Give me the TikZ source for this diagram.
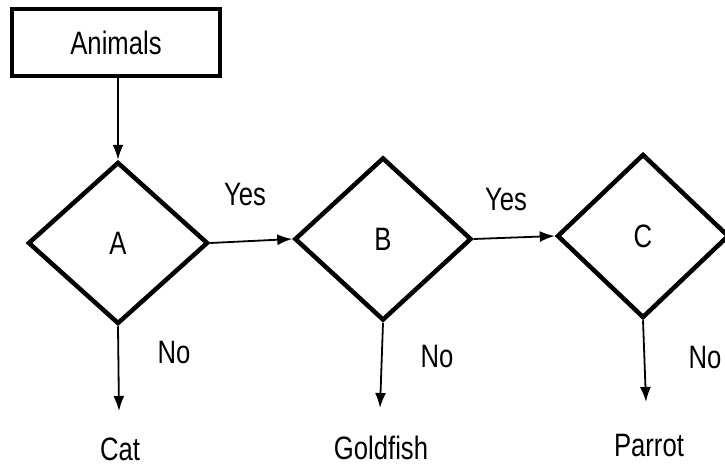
\documentclass[tikz,border=0pt]{standalone}
\usepackage{fontspec}
\setmainfont{Liberation Sans}
\usetikzlibrary{shapes.geometric,arrows.meta}
\newcommand{\mytxt}[1]{\scalebox{0.95}[1.2]{#1}}
\begin{document}
\begin{tikzpicture}[x=1pt,y=-1pt,
  lbl/.style={font=\fontsize{27}{30}\selectfont, inner sep=0pt},
  dec/.style={diamond, draw, line width=4.5pt, minimum width=180pt, minimum height=162pt, inner sep=0pt, font=\fontsize{27}{30}\selectfont},
  arr/.style={line width=1.8pt, -{Latex[length=15pt,width=11pt]}},
  startbox/.style={draw, line width=3.2pt, minimum width=208pt, minimum height=67pt, inner sep=0pt, font=\fontsize{27}{30}\selectfont}]
\useasboundingbox (0,0) rectangle (725,468);
\fill[white] (0,0) rectangle (725,468);
\clip (0,0) rectangle (725,468);
\node[startbox] (animals) at (116,42.5) {\mytxt{Animals}};
\node[dec] (A) at (118,243) {\mytxt{A}};
\node[dec, minimum width=177pt, minimum height=163pt] (B) at (383,239) {\mytxt{B}};
\node[dec, minimum width=172pt, minimum height=164pt] (C) at (643,236) {\mytxt{C}};
\node[lbl] (yes1) at (245,195) {\mytxt{Yes}};
\node[lbl] (yes2) at (506,200) {\mytxt{Yes}};
\node[lbl] (no1) at (174,353) {\mytxt{No}};
\node[lbl] (no2) at (437,357) {\mytxt{No}};
\node[lbl] (no3) at (705,358) {\mytxt{No}};
\node[lbl] (cat) at (120,449) {\mytxt{Cat}};
\node[lbl] (gold) at (381,448) {\mytxt{Goldfish}};
\node[lbl] (parrot) at (649,446) {\mytxt{Parrot}};
\coordinate (ta) at (119,411);
\coordinate (tb) at (380,408);
\coordinate (tc) at (646,402);
\draw[arr] (animals.south -| A.north) -- (A.north);
\draw[arr] (A.east) -- (B.west);
\draw[arr] (B.east) -- (C.west);
\draw[arr] (A.south) -- (ta);
\draw[arr] (B.south) -- (tb);
\draw[arr] (C.south) -- (tc);
\end{tikzpicture}
\end{document}
